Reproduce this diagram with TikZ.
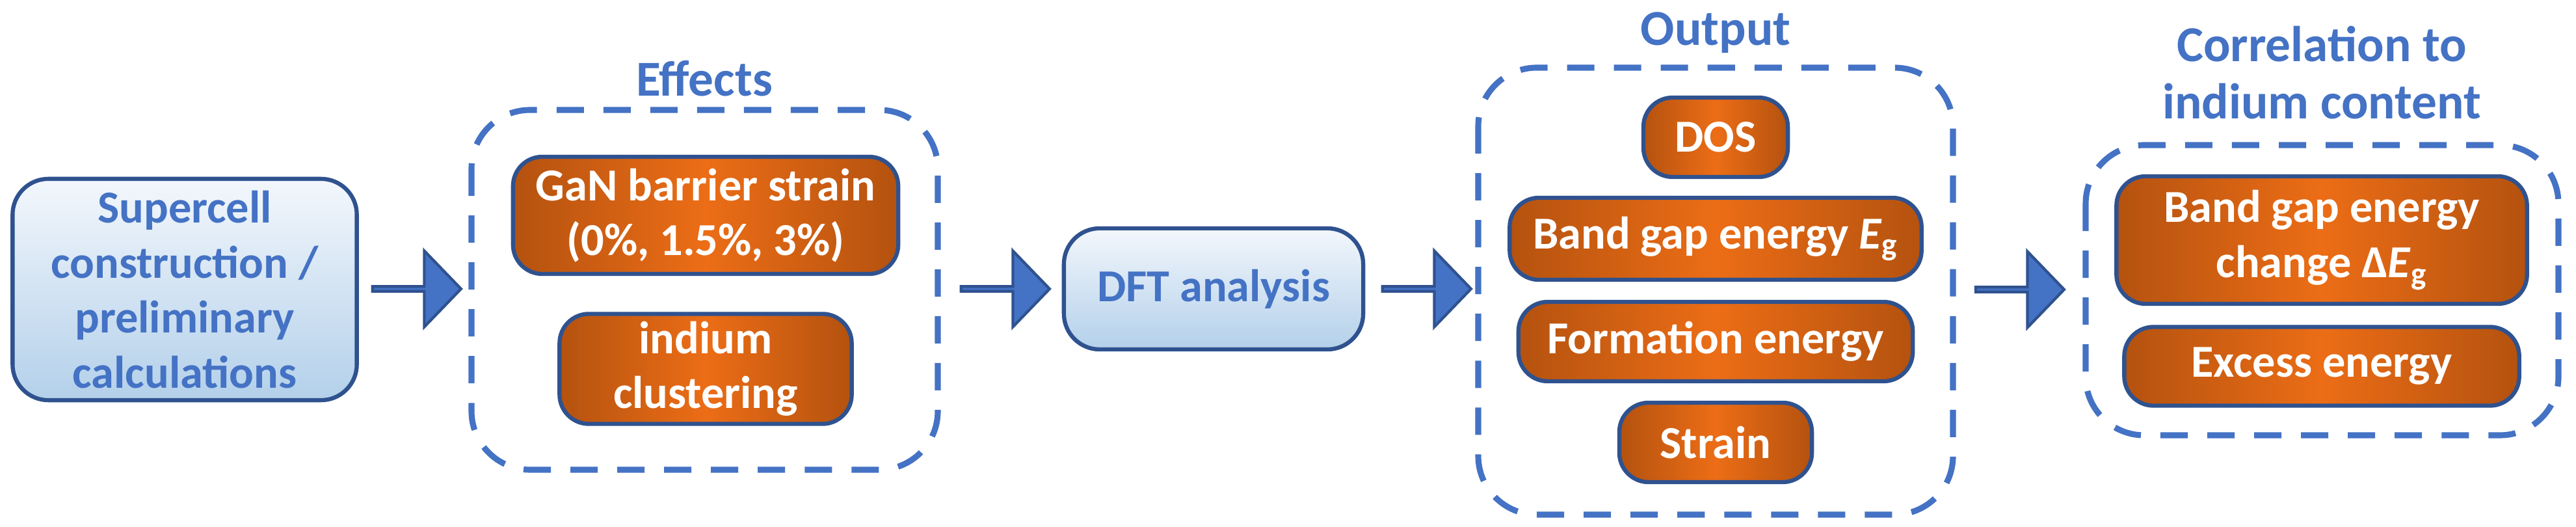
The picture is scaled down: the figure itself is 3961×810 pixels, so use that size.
\documentclass[tikz,border=0pt]{standalone}
\usepackage{fontspec}
\setmainfont{Carlito}
\usetikzlibrary{positioning,shapes.arrows}
\definecolor{txtblue}{HTML}{4472C4}
\definecolor{edgeblue}{HTML}{2F528F}
\definecolor{darkor}{HTML}{B4520F}
\definecolor{brightor}{HTML}{EC6D16}
\definecolor{lightbl}{HTML}{F3F7FC}
\definecolor{midbl}{HTML}{B3D0EA}
\tikzset{
  stage/.style={rounded corners=0.55cm, draw=edgeblue, line width=1.8pt, align=center,
    top color=lightbl, bottom color=midbl, text=txtblue,
    font=\fontsize{20}{24}\selectfont\bfseries},
  result/.style={rounded corners=0.45cm, draw=edgeblue, line width=1.8pt, align=center,
    left color=darkor, right color=darkor, middle color=brightor, text=white,
    font=\fontsize{20}{24}\selectfont\bfseries},
  group/.style={rounded corners=0.9cm, draw=txtblue, line width=2.6pt, dash pattern=on 0.42cm off 0.3cm},
  heading/.style={text=txtblue, align=center, font=\fontsize{22}{25}\selectfont\bfseries},
  flow/.style={single arrow, draw=edgeblue, fill=txtblue, line width=1.2pt, inner sep=0pt,
    minimum height=1.36cm, minimum width=1.17cm, single arrow head extend=0.3cm,
    single arrow tip angle=92}
}
\newcommand\Eg{\textit{E}\textsubscript{g}}
\begin{document}
\begin{tikzpicture}[x=0.01cm,y=-0.01cm]
  \useasboundingbox (0,0) rectangle (3961,810);

  % dashed groups
  \draw[group] (725,169) rectangle (1442,722);
  \draw[group] (2273,104) rectangle (3003,791);
  \draw[group] (3207,223) rectangle (3934,669);

  \node[heading] (effT) at (1083,121) {Effects};
  \node[heading] (outT) at (2638,50) {Output};
  \node[heading] (corT) at (3570,112) {Correlation to\\indium content};

  % main steps
  \node[stage, minimum width=5.29cm, minimum height=3.4cm] (cell) at (284,445)
    {Supercell\\construction /\\preliminary\\calculations};
  \node[stage, minimum width=4.6cm, minimum height=1.86cm] (dft) at (1866,444) {DFT analysis};

  % effects
  \node[result, minimum width=5.92cm, minimum height=1.8cm] (gan) at (1085,331)
    {GaN barrier strain\\(0\%, 1.5\%, 3\%)};
  \node[result, minimum width=4.49cm, minimum height=1.67cm] (clus) at (1085,567)
    {indium\\clustering};

  % output
  \node[result, minimum width=2.22cm, minimum height=1.22cm] (dos) at (2638,211) {DOS};
  \node[result, minimum width=6.33cm, minimum height=1.26cm] (gap) at (2638,367) {Band gap energy \Eg};
  \node[result, minimum width=6.06cm, minimum height=1.22cm] (form) at (2638,525) {Formation energy};
  \node[result, minimum width=2.96cm, minimum height=1.22cm] (strn) at (2638,680) {Strain};

  % correlation
  \node[result, minimum width=6.31cm, minimum height=1.96cm] (dgap) at (3570,369)
    {Band gap energy\\change Δ\Eg};
  \node[result, minimum width=6.07cm, minimum height=1.21cm] (exc) at (3570,563) {Excess energy};

  % block arrows
  \node[flow] (a1) at (639,444) {};
  \node[flow] (a2) at (1544,444) {};
  \node[flow] (a3) at (2192,444) {};
  \node[flow] (a4) at (3104,445) {};
\end{tikzpicture}
\end{document}
